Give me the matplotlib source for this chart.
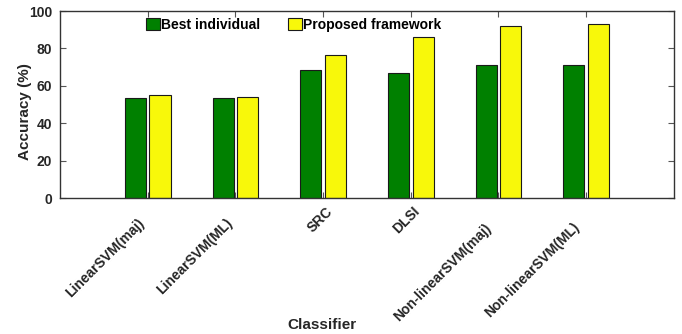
import matplotlib
matplotlib.use("Agg")
import matplotlib.pyplot as plt
import matplotlib.transforms as mtransforms
import numpy as np

plt.rcParams['font.family'] = ['Liberation Sans', 'DejaVu Sans']
plt.rcParams['font.weight'] = 'bold'

classifiers = ["LinearSVM(maj)", "LinearSVM(ML)", "SRC", "DLSI",
               "Non-linearSVM(maj)", "Non-linearSVM(ML)"]
best_individual = [53.6, 53.6, 68.4, 67.0, 71.1, 71.1]
proposed = [55.0, 53.9, 76.4, 86.1, 91.8, 93.2]
y_ticks = [0, 20, 40, 60, 80, 100]

DPI = 100
fig = plt.figure(figsize=(6.82, 3.34), dpi=DPI)
ax = fig.add_axes([0.088, 0.407, 0.9, 0.56])

x = np.arange(1, len(classifiers) + 1)
w = 0.24
off = 0.14
ax.bar(x - off, best_individual, w, color='#008000', edgecolor='#1a1a1a',
       linewidth=0.8, label='Best individual')
ax.bar(x + off, proposed, w, color='#f8f80a', edgecolor='#1a1a1a',
       linewidth=0.8, label='Proposed framework')

ax.set_xlim(0, len(classifiers) + 1)
ax.set_ylim(0, 100)
ax.set_yticks(y_ticks)
ax.set_xticks(x)
ax.set_xticklabels([])
for lab in ax.get_yticklabels():
    lab.set_fontsize(10)
    lab.set_fontweight('bold')
    lab.set_color('#262626')

ax.tick_params(direction='in', top=True, right=True, length=4,
               color='#555555', width=0.8)
ax.tick_params(axis='y', pad=5.8)
for s in ax.spines.values():
    s.set_color('#333333')
    s.set_linewidth(1.0)

# rotated category labels, slid along the 45 degree line by text length
renderer = fig.canvas.get_renderer()
base = mtransforms.blended_transform_factory(ax.transData, ax.transAxes)
for xi, name in zip(x, classifiers):
    probe = fig.text(0, 0, name, fontsize=10, fontweight='bold')
    L = probe.get_window_extent(renderer).width
    probe.remove()
    s = 6.3 + 0.163 * L
    tr = mtransforms.offset_copy(base, fig=fig, x=18 - s, y=-s, units='dots')
    ax.text(xi, 0, name, transform=tr, rotation=45, rotation_mode='anchor',
            ha='right', va='center', fontsize=10, fontweight='bold',
            color='#262626')

ax.set_ylabel('Accuracy (%)', fontsize=11, fontweight='bold', color='#262626')
ax.yaxis.set_label_coords(-0.046, 0.465)
ax.set_xlabel('Classifier', fontsize=11, fontweight='bold', color='#262626')
ax.xaxis.set_label_coords(0.426, -0.642)

ax.legend(loc='upper left', ncol=2, frameon=False, fontsize=10,
          handlelength=1.0, handleheight=1.0, handletextpad=0.1,
          columnspacing=2.0, borderpad=0, borderaxespad=0,
          bbox_to_anchor=(0.14, 0.963))

fig.savefig('out.png', dpi=DPI)
